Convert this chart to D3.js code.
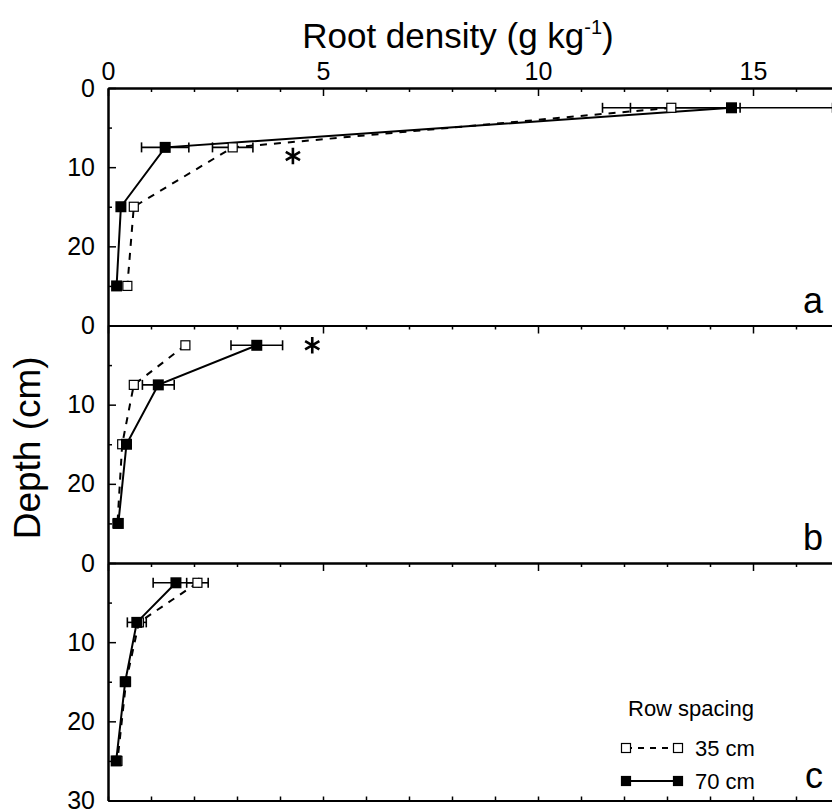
<!DOCTYPE html>
<html>
<head>
<meta charset="utf-8">
<script src="https://cdn.jsdelivr.net/npm/d3@7"></script>
<style>
body{margin:0;background:#fff;}
svg{display:block;font-family:"Liberation Sans",Arial,Helvetica,sans-serif;}
.axis .domain{stroke:#000;stroke-width:2px;}
.axis line{stroke:#000;stroke-width:1.5px;}
.axis text{font-size:25px;fill:#000;}
</style>
</head>
<body>
<div id="chart"></div>
<script>
//Data: root density (g/kg) by depth (cm), one row per panel a, b, c
const panels = ['a','b','c'];
const depths = [2.5, 7.5, 15, 25];
const density35 = [[13.1, 2.9, 0.6, 0.45], [1.8, 0.6, 0.33, 0.22], [2.08, 0.72, 0.42, 0.22]];
const error35 = [[1.6, 0.47, 0, 0], [0, 0, 0, 0], [0.25, 0, 0, 0]];
const density70 = [[14.5, 1.33, 0.3, 0.2], [3.46, 1.17, 0.43, 0.24], [1.58, 0.67, 0.4, 0.19]];
const error70 = [[2.35, 0.55, 0, 0], [0.6, 0.37, 0, 0], [0.53, 0.22, 0, 0]];
//significance marks
const starPanel = [0, 1];
const starDensity = [4.3, 4.75];
const starDepth = [8.6, 2.5];
//ticks
const xTicks = [0, 5, 10, 15];
const xMinorTicks = [1, 2, 3, 4, 6, 7, 8, 9, 11, 12, 13, 14, 16];
const yTicks = [0, 10, 20];
const yMinorTicks = [5, 15, 25];
const legendLabels = ['35 cm', '70 cm'];

//Set up DOM scaffolding
const width = 832;
const height = 812;
const margin = {t:88, l:108};
const panelH = 237.5;

const svg = d3.select('#chart')
	.append('svg')
	.attr('width', width)
	.attr('height', height);

const scaleX = d3.scaleLinear().domain([0, 17]).range([margin.l, margin.l + 17*43]);
const scaleY = d3.scaleLinear().domain([0, 30]).range([0, panelH]);

const line = d3.line()
	.x(d => scaleX(d.v))
	.y(d => scaleY(d.depth));

panels.forEach((name, i) => {
	const g = svg.append('g')
		.attr('transform', `translate(0,${margin.t + i*panelH})`);

	//top axis, labels only on the first panel
	const axisTop = d3.axisTop(scaleX)
		.tickValues(xTicks)
		.tickSize(-8)
		.tickSizeOuter(0)
		.tickPadding(8)
		.tickFormat(i === 0 ? d3.format('d') : '');
	g.append('g').attr('class', 'axis').call(axisTop);
	g.append('g').attr('class', 'axis')
		.call(d3.axisTop(scaleX).tickValues(xMinorTicks).tickSize(-4).tickSizeOuter(0).tickFormat(''));

	//left axis
	const axisLeft = d3.axisLeft(scaleY)
		.tickValues(i === 2 ? yTicks.concat([30]) : yTicks)
		.tickSize(-8)
		.tickSizeOuter(0)
		.tickPadding(13)
		.tickFormat(d3.format('d'));
	g.append('g').attr('class', 'axis')
		.attr('transform', `translate(${margin.l},0)`)
		.call(axisLeft);
	g.append('g').attr('class', 'axis')
		.attr('transform', `translate(${margin.l},0)`)
		.call(d3.axisLeft(scaleY).tickValues(yMinorTicks).tickSize(-4).tickSizeOuter(0).tickFormat(''));

	//bottom axis on last panel
	if(i === 2){
		g.append('g').attr('class', 'axis')
			.attr('transform', `translate(0,${panelH})`)
			.call(d3.axisBottom(scaleX).tickValues(xTicks.concat(xMinorTicks)).tickSize(-4).tickSizeOuter(0).tickFormat(''));
	}

	const s35 = depths.map((depth, j) => ({depth, v:density35[i][j], e:error35[i][j]}));
	const s70 = depths.map((depth, j) => ({depth, v:density70[i][j], e:error70[i][j]}));

	//lines
	g.append('path')
		.datum(s35)
		.attr('d', line)
		.style('fill', 'none')
		.style('stroke', '#000')
		.style('stroke-width', 2)
		.style('stroke-dasharray', '7 7');
	g.append('path')
		.datum(s70)
		.attr('d', line)
		.style('fill', 'none')
		.style('stroke', '#000')
		.style('stroke-width', 2);

	//error bars
	const bars = g.selectAll('.err')
		.data(s35.concat(s70).filter(d => d.e > 0))
		.enter()
		.append('g')
		.attr('class', 'err')
		.style('stroke', '#000')
		.style('stroke-width', 1.6);
	bars.append('line')
		.attr('x1', d => scaleX(d.v - d.e))
		.attr('x2', d => scaleX(d.v + d.e))
		.attr('y1', d => scaleY(d.depth))
		.attr('y2', d => scaleY(d.depth));
	bars.append('line')
		.attr('x1', d => scaleX(d.v - d.e))
		.attr('x2', d => scaleX(d.v - d.e))
		.attr('y1', d => scaleY(d.depth) - 5)
		.attr('y2', d => scaleY(d.depth) + 5);
	bars.append('line')
		.attr('x1', d => scaleX(d.v + d.e))
		.attr('x2', d => scaleX(d.v + d.e))
		.attr('y1', d => scaleY(d.depth) - 5)
		.attr('y2', d => scaleY(d.depth) + 5);

	//markers
	g.selectAll('.open')
		.data(s35)
		.enter()
		.append('rect')
		.attr('class', 'open')
		.attr('x', d => scaleX(d.v) - 4.5)
		.attr('y', d => scaleY(d.depth) - 4.5)
		.attr('width', 9)
		.attr('height', 9)
		.style('fill', '#fff')
		.style('stroke', '#000')
		.style('stroke-width', 1.2);
	g.selectAll('.filled')
		.data(s70)
		.enter()
		.append('rect')
		.attr('class', 'filled')
		.attr('x', d => scaleX(d.v) - 5.5)
		.attr('y', d => scaleY(d.depth) - 5.5)
		.attr('width', 11)
		.attr('height', 11)
		.style('fill', '#000');

	//panel letter
	g.append('text')
		.attr('x', 823)
		.attr('y', panelH - 13)
		.attr('text-anchor', 'end')
		.style('font-size', '36px')
		.text(name);
});

//significance asterisks
svg.selectAll('.star')
	.data(starPanel)
	.enter()
	.append('path')
	.attr('class', 'star')
	.attr('d', d3.symbol(d3.symbolAsterisk, 190))
	.attr('transform', (p, k) => `translate(${scaleX(starDensity[k])},${margin.t + p*panelH + scaleY(starDepth[k])})`)
	.style('fill', 'none')
	.style('stroke', '#000')
	.style('stroke-width', 2.6);

//axis titles
const title = svg.append('text')
	.attr('x', 458)
	.attr('y', 48)
	.attr('text-anchor', 'middle')
	.style('font-size', '35px');
title.append('tspan').text('Root density (g kg');
title.append('tspan').attr('dy', -14).style('font-size', '20px').text('-1');
title.append('tspan').attr('dy', 14).text(')');

svg.append('text')
	.attr('transform', `translate(40,${margin.t + 1.515*panelH}) rotate(-90)`)
	.attr('text-anchor', 'middle')
	.style('font-size', '37px')
	.text('Depth (cm)');

//legend
const legend = svg.append('g').attr('transform', 'translate(626,0)');
legend.append('text')
	.attr('x', 2)
	.attr('y', 716)
	.style('font-size', '22px')
	.text('Row spacing');
legendLabels.forEach((label, k) => {
	const ly = k === 0 ? 748 : 781;
	legend.append('line')
		.attr('x1', 0).attr('x2', 52)
		.attr('y1', ly).attr('y2', ly)
		.style('stroke', '#000')
		.style('stroke-width', 2)
		.style('stroke-dasharray', k === 0 ? '6 6' : null);
	[0, 52].forEach(dx => {
		legend.append('rect')
			.attr('x', dx - 4.5).attr('y', ly - 4.5)
			.attr('width', 9).attr('height', 9)
			.style('fill', k === 0 ? '#fff' : '#000')
			.style('stroke', '#000')
			.style('stroke-width', 1.2);
	});
	legend.append('text')
		.attr('x', 69)
		.attr('y', ly + 8)
		.style('font-size', '22px')
		.text(label);
});
</script>
</body>
</html>
